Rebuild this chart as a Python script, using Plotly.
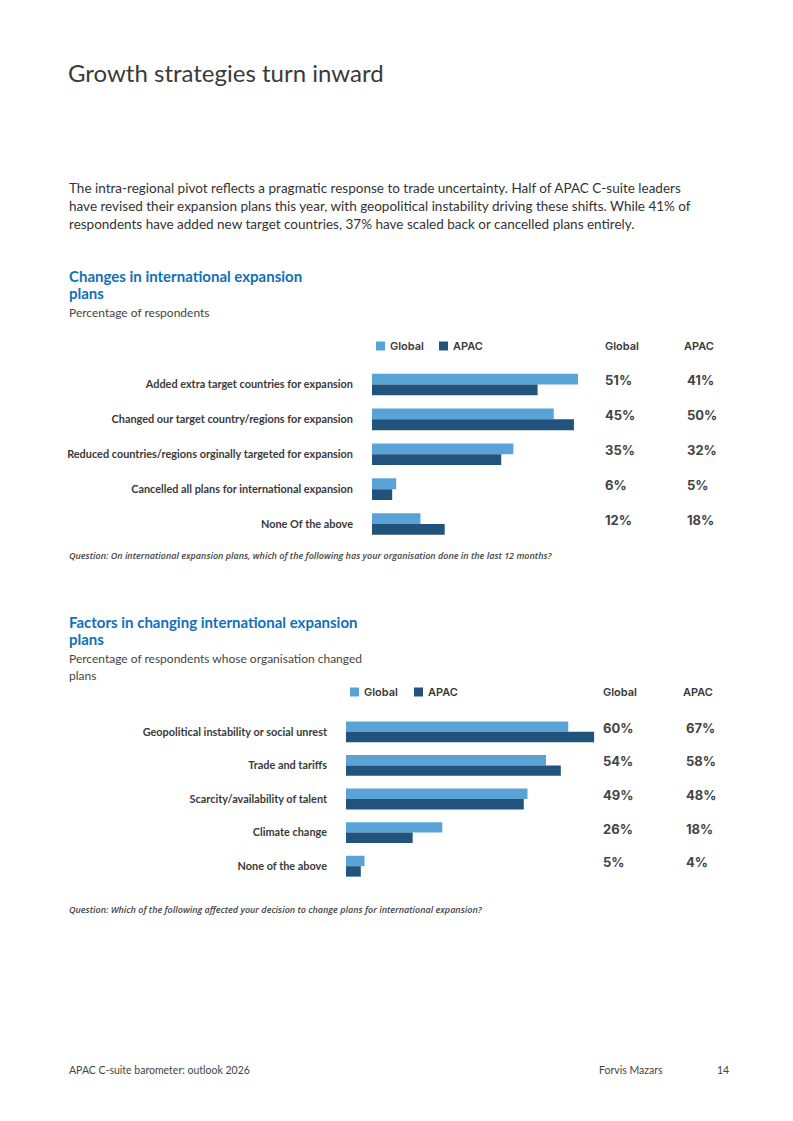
import plotly.graph_objects as go

# ---- data ----
changes_labels = [
    "Added extra target countries for expansion",
    "Changed our target country/regions for expansion",
    "Reduced countries/regions orginally targeted for expansion",
    "Cancelled all plans for international expansion",
    "None Of the above",
]
changes_global = [51, 45, 35, 6, 12]
changes_apac = [41, 50, 32, 5, 18]

factor_labels = [
    "Geopolitical instability or social unrest",
    "Trade and tariffs",
    "Scarcity/availability of talent",
    "Climate change",
    "None of the above",
]
factor_global = [60, 54, 49, 26, 5]
factor_apac = [67, 58, 48, 18, 4]

series_names = ["Global", "APAC"]

title_text = "Growth strategies turn inward"
intro_lines = [
    "The intra-regional pivot reflects a pragmatic response to trade uncertainty. Half of APAC C-suite leaders",
    "have revised their expansion plans this year, with geopolitical instability driving these shifts. While 41% of",
    "respondents have added new target countries, 37% have scaled back or cancelled plans entirely.",
]
chart1_title = ["Changes in international expansion", "plans"]
chart1_sub = ["Percentage of respondents"]
chart1_question = "Question: On international expansion plans, which of the following has your organisation done in the last 12 months?"
chart2_title = ["Factors in changing international expansion", "plans"]
chart2_sub = ["Percentage of respondents whose organisation changed", "plans"]
chart2_question = "Question: Which of the following affected your decision to change plans for international expansion?"
footer = ["APAC C-suite barometer: outlook 2026", "Forvis Mazars", "14"]

# ---- style ----
W, H = 793, 1121
C_GLOBAL = "#5aa3d6"
C_APAC = "#22537c"
BLUE = "#1070b8"
TXT = "#3a3a3a"
BODY_FONT = "Lato"
NUM_FONT = "Inter"


def px(x):
    return x / W


def py(y):
    return 1 - y / H


fig = go.Figure()

charts = [
    dict(labels=changes_labels, g=changes_global, a=changes_apac, xa="x", ya="y",
         x0=372, x1=580, xmax=51.5, top=367, bottom=541.5,
         gcol=603, acol=685, head_y=346, leg_x=[376, 439]),
    dict(labels=factor_labels, g=factor_global, a=factor_apac, xa="x2", ya="y2",
         x0=346, x1=596, xmax=67.5, top=715, bottom=883,
         gcol=601, acol=684, head_y=692, leg_x=[350, 414]),
]

for c in charts:
    for name, vals, col in zip(series_names, [c["g"], c["a"]], [C_GLOBAL, C_APAC]):
        fig.add_trace(go.Bar(
            x=vals, y=list(range(len(c["labels"]))), orientation="h",
            name=name, marker=dict(color=col, line=dict(width=0)),
            xaxis=c["xa"], yaxis=c["ya"], showlegend=False,
            hovertemplate="%{x}%<extra>" + name + "</extra>",
        ))

ax_common = dict(showgrid=False, zeroline=False, showline=False)
label_font = dict(family=BODY_FONT, size=10.9, color=TXT)
fig.update_layout(
    xaxis=dict(domain=[px(charts[0]["x0"]), px(charts[0]["x1"])], range=[0, charts[0]["xmax"]],
               visible=False, anchor="y", **ax_common),
    yaxis=dict(domain=[py(charts[0]["bottom"]), py(charts[0]["top"])], range=[4.5, -0.5],
               tickmode="array", tickvals=list(range(5)),
               ticktext=["<b>%s</b>" % t for t in changes_labels],
               ticks="", ticklabelstandoff=18, anchor="x", tickfont=label_font, **ax_common),
    xaxis2=dict(domain=[px(charts[1]["x0"]), px(charts[1]["x1"])], range=[0, charts[1]["xmax"]],
                visible=False, anchor="y2", **ax_common),
    yaxis2=dict(domain=[py(charts[1]["bottom"]), py(charts[1]["top"])], range=[4.5, -0.5],
                tickmode="array", tickvals=list(range(5)),
                ticktext=["<b>%s</b>" % t for t in factor_labels],
                ticks="", ticklabelstandoff=18, anchor="x2", tickfont=label_font, **ax_common),
    barmode="group", bargap=0.38, bargroupgap=0,
)

ann = []
shapes = []


def text(x, y, s, size, color=TXT, family=BODY_FONT, weight=400, style="normal"):
    ann.append(dict(x=px(x), y=py(y), xref="paper", yref="paper",
                    text=s, showarrow=False, xanchor="left", yanchor="middle",
                    font=dict(family=family, size=size, color=color, weight=weight, style=style)))


# page texts
text(66, 72, title_text, 24, color="#3a3a3a", weight=400)
for i, line in enumerate(intro_lines):
    text(67, 188 + i * 18, line, 13.5, color="#333333")

for c, head, sub, q, hy, sy, qy in [
    (charts[0], chart1_title, chart1_sub, chart1_question, 276, 312, 555),
    (charts[1], chart2_title, chart2_sub, chart2_question, 622, 658, 909),
]:
    for i, line in enumerate(head):
        text(67, hy + i * 17, line, 15, color=BLUE, weight=700)
    for i, line in enumerate(sub):
        text(67, sy + i * 17, line, 12, color="#444444")
    text(67, qy, q, 9, color="#444444", family="Open Sans", weight=600, style="italic")
    # legend keys
    for lx, name, col in zip(c["leg_x"], series_names, [C_GLOBAL, C_APAC]):
        shapes.append(dict(type="rect", xref="paper", yref="paper",
                           x0=px(lx), x1=px(lx + 9), y0=py(c["head_y"] + 4.5), y1=py(c["head_y"] - 4.5),
                           fillcolor=col, line=dict(width=0)))
        text(lx + 12, c["head_y"], name, 11, family=NUM_FONT, weight=600)
    # column headers
    text(c["gcol"], c["head_y"], series_names[0], 11, family=NUM_FONT, weight=600)
    text(c["acol"] - 3, c["head_y"], series_names[1], 11, family=NUM_FONT, weight=600)
    # value columns
    yr = c["ya"]
    for i, (g, a) in enumerate(zip(c["g"], c["a"])):
        for xcol, v in [(c["gcol"], g), (c["acol"], a)]:
            ann.append(dict(x=px(xcol), y=i, xref="paper", yref=yr, yshift=4,
                            text="%d%%" % v, showarrow=False, xanchor="left", yanchor="middle",
                            font=dict(family=NUM_FONT, size=13, color="#444444", weight=700)))

# footer
text(67, 1070, footer[0], 10.5, color="#444444")
text(597, 1070, footer[1], 10.5, color="#444444")
text(715, 1070, footer[2], 10.5, color="#444444")

fig.update_layout(
    annotations=ann, shapes=shapes,
    width=W, height=H, margin=dict(l=0, r=0, t=0, b=0),
    paper_bgcolor="white", plot_bgcolor="white",
    font=dict(family=BODY_FONT, color=TXT),
    showlegend=False,
)

fig.write_html("out.html", config={"displayModeBar": False},
               post_script="document.body.style.margin='0';")
